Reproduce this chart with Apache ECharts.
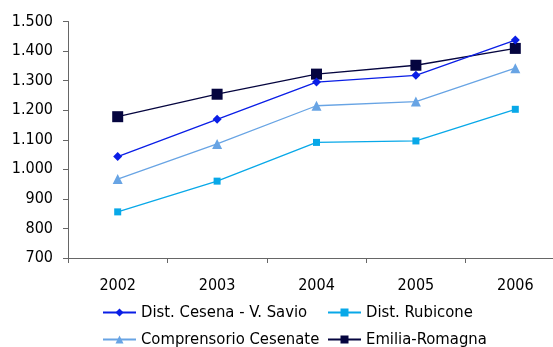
<!DOCTYPE html>
<html>
<head>
<meta charset="utf-8">
<script src="https://cdn.jsdelivr.net/npm/echarts@6/dist/echarts.min.js"></script>
<style>
  html, body { margin: 0; padding: 0; background: #fff; overflow: hidden; }
  /* plot area runs slightly past the right edge of the window */
  #chart { width: 565px; height: 347px; }
</style>
</head>
<body>
<div id="chart"></div>
<script>
// Years on the horizontal axis
const years = ['2002', '2003', '2004', '2005', '2006'];

// Series values
const cesenaSavio = [1043, 1169, 1295, 1318, 1437];
const rubicone = [856, 960, 1091, 1096, 1203];
const comprensorio = [967, 1086, 1215, 1229, 1342];
const emiliaRomagna = [1178, 1254, 1322, 1352, 1409];

// Value axis range
const yMin = 700;
const yMax = 1500;
const yStep = 100;

const FONT = 'DejaVu Sans Condensed';

function fmtThousands(v) {
  return String(v).replace(/\B(?=(\d{3})+(?!\d))/g, '.');
}

const chart = echarts.init(document.getElementById('chart'), null, { renderer: 'canvas' });

function legendAt(name, left, top) {
  return {
    data: [name],
    left: left,
    top: top,
    itemWidth: 33,
    itemHeight: 10,
    itemGap: 0,
    padding: 0,
    textStyle: { fontFamily: FONT, fontSize: 16.5, color: '#000' }
  };
}

chart.setOption({
  animation: false,
  backgroundColor: '#fff',
  grid: { left: 68, right: 0, top: 21.5, bottom: 89, containLabel: false },
  legend: [
    legendAt('Dist. Cesena - V. Savio', 102, 304),
    legendAt('Dist. Rubicone', 327, 304),
    legendAt('Comprensorio Cesenate', 102, 331),
    legendAt('Emilia-Romagna', 327, 331)
  ],
  xAxis: {
    type: 'category',
    data: years,
    boundaryGap: true,
    axisLine: { lineStyle: { color: '#666', width: 1 } },
    axisTick: { show: true, length: 5, inside: false, lineStyle: { color: '#666' } },
    axisLabel: { fontFamily: FONT, fontSize: 16, color: '#000', margin: 20 },
    splitLine: { show: false }
  },
  yAxis: {
    type: 'value',
    min: yMin,
    max: yMax,
    interval: yStep,
    axisLine: { show: true, lineStyle: { color: '#666', width: 1 } },
    axisTick: { show: true, length: 5, lineStyle: { color: '#666' } },
    axisLabel: { fontFamily: FONT, fontSize: 16, color: '#000', margin: 15, formatter: fmtThousands },
    splitLine: { show: false }
  },
  series: [
    {
      name: 'Dist. Cesena - V. Savio',
      type: 'line',
      data: cesenaSavio,
      symbol: 'diamond',
      symbolSize: 9,
      lineStyle: { color: '#0A1EE6', width: 1.3 },
      itemStyle: { color: '#0A1EE6' },
      z: 3
    },
    {
      name: 'Dist. Rubicone',
      type: 'line',
      data: rubicone,
      symbol: 'rect',
      symbolSize: 7,
      lineStyle: { color: '#08A8E8', width: 1.3 },
      itemStyle: { color: '#08A8E8' },
      z: 2
    },
    {
      name: 'Comprensorio Cesenate',
      type: 'line',
      data: comprensorio,
      symbol: 'triangle',
      symbolSize: 10,
      lineStyle: { color: '#68A4E4', width: 1.3 },
      itemStyle: { color: '#68A4E4' },
      z: 2
    },
    {
      name: 'Emilia-Romagna',
      type: 'line',
      data: emiliaRomagna,
      symbol: 'rect',
      symbolSize: 11,
      lineStyle: { color: '#05053F', width: 1.3 },
      itemStyle: { color: '#05053F' },
      z: 2
    }
  ]
});
</script>
</body>
</html>
